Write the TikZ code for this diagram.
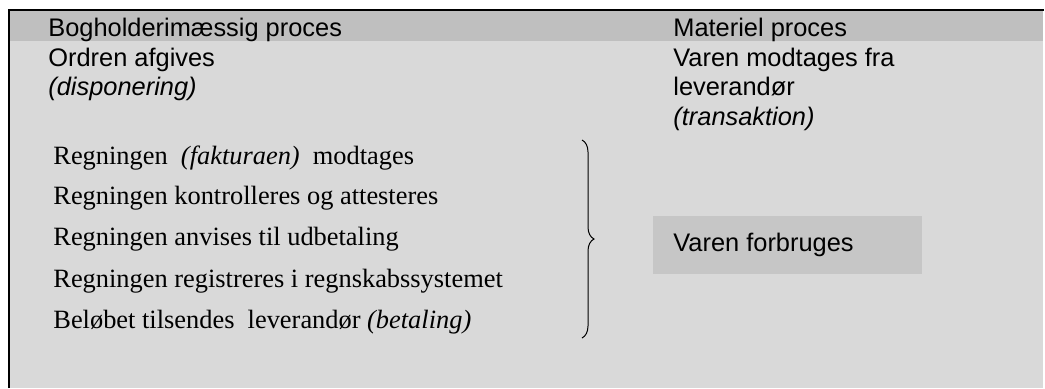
\documentclass[tikz,border=0pt]{standalone}
\usepackage{fontspec}
\setmainfont{Liberation Serif}
\setsansfont{Liberation Sans}
\usetikzlibrary{decorations.pathreplacing}
\definecolor{bandgray}{HTML}{BFBFBF}
\definecolor{bodygray}{HTML}{D9D9D9}
\definecolor{boxgray}{HTML}{C6C6C6}
\begin{document}
\begin{tikzpicture}[x=0.5pt,y=-0.5pt,
    sanstxt/.style={anchor=base west,inner sep=0pt,font=\sffamily\fontsize{12.7}{15}\selectfont},
    sertxt/.style={anchor=base west,inner sep=0pt,font=\rmfamily\fontsize{13.2}{16}\selectfont}]
  \useasboundingbox (0,0) rectangle (1045,388);
  \fill[bodygray] (9,10) rectangle (1043,388);
  \fill[bandgray] (9,10) rectangle (1043,41);
  \draw[line width=1pt] (9,388) -- (9,10) -- (1044,10);
  % bogholderimaessig side
  \draw (48,36) node[sanstxt] (bog) {Bogholderimæssig proces};
  \draw (48,66) node[sanstxt] (ordre) {Ordren afgives};
  \draw (48,95.5) node[sanstxt] (disp) {\itshape (disponering)};
  \draw (53,164) node[sertxt] (r1) {Regningen \ \textit{(fakturaen)} \ modtages};
  \draw (53,204.5) node[sertxt] (r2) {Regningen kontrolleres og attesteres};
  \draw (53,245.5) node[sertxt] (r3) {Regningen anvises til udbetaling};
  \draw (53,287) node[sertxt] (r4) {Regningen registreres i regnskabssystemet};
  \draw (53,328) node[sertxt] (r5) {Beløbet tilsendes \ leverandør \textit{(betaling)}};
  \coordinate (btop) at (582,140);
  \coordinate (bbot) at (582,338);
  \draw[line width=0.5pt,decorate,decoration={brace,amplitude=6}] (btop) -- (bbot);
  % materiel side
  \draw (673,36) node[sanstxt] (mat) {Materiel proces};
  \draw (673,66) node[sanstxt] (vare1) {Varen modtages fra};
  \draw (673,95.5) node[sanstxt] (vare2) {leverandør};
  \draw (673,125) node[sanstxt] (trans) {\itshape (transaktion)};
  \fill[boxgray] (653,216) rectangle (922,274);
  \draw (673,251) node[sanstxt] (forb) {Varen forbruges};
\end{tikzpicture}
\end{document}
